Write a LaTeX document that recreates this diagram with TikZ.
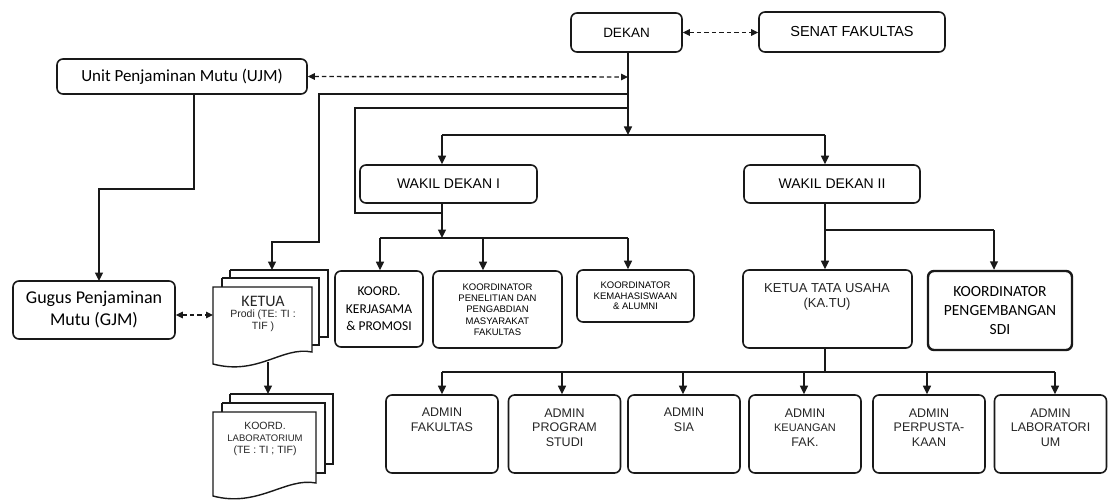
\documentclass[tikz,border=0pt]{standalone}
\usepackage{fontspec}
\setmainfont{Liberation Sans}
\newfontfamily\calibri{Carlito}
\usetikzlibrary{arrows.meta}
\newcommand\fsz[2]{\fontsize{#1}{#2}\selectfont}
\begin{document}
\begin{tikzpicture}[x=1pt,y=-1pt,
  box/.style={draw=black!90, line width=1.6pt, rounded corners=6pt, align=center, inner sep=0pt, fill=white},
  txt/.style={align=center, inner sep=0pt, text=black!85},
  ln/.style={line width=1.4pt, draw=black!90},
  arr/.style={ln, -{Triangle[length=8.5pt,width=8pt]}},
  darr/.style={ln, dash pattern=on 4.5pt off 3pt, {Triangle[length=7pt,width=6.5pt]}-{Triangle[length=7pt,width=6.5pt]}},
  doc/.style={line width=1.4pt, draw=black!90, line join=miter}]
\useasboundingbox (0,0) rectangle (1113,500);
\fill[white] (0,0) rectangle (1113,500);

% ---- top level boxes
\node[box, minimum width=111pt, minimum height=39pt, font=\fsz{13.5}{15}] (dekan) at (626.5,32.5) {DEKAN};
\node[box, minimum width=186pt, minimum height=40pt, font=\fsz{14.5}{16}] (senat) at (852,32) {SENAT FAKULTAS};
\node[box, minimum width=250pt, minimum height=35pt, font=\calibri\fsz{17}{20}] (ujm) at (182,76.5) {Unit Penjaminan Mutu (UJM)};
\node[box, minimum width=177pt, minimum height=38pt, font=\fsz{14}{16}] (wd1) at (448.5,184) {WAKIL DEKAN I};
\node[box, minimum width=176pt, minimum height=38pt, font=\fsz{14}{16}] (wd2) at (832,184) {WAKIL DEKAN II};
\node[box, minimum width=162pt, minimum height=58pt, font=\calibri\fsz{18}{22}] (gjm) at (94,310) {Gugus Penjaminan\\Mutu (GJM)};

% ---- second level
\node[box, minimum width=88pt, minimum height=76pt, font=\calibri\fsz{13.5}{17.5}] (kerj) at (379,309) {KOORD.\\KERJASAMA\\\& PROMOSI};
\node[box, minimum width=129pt, minimum height=77pt, font=\fsz{9.5}{11.3}] (pen) at (497.5,309.5) {KOORDINATOR\\PENELITIAN DAN\\PENGABDIAN\\MASYARAKAT\\FAKULTAS};
\node[box, minimum width=117pt, minimum height=52pt, font=\fsz{9.5}{10.5}] (kema) at (635.5,296) {KOORDINATOR\\KEMAHASISWAAN\\\& ALUMNI};
\node[box, minimum width=169pt, minimum height=78pt] (katu) at (827.5,309) {};
\node[txt, font=\fsz{13}{15}] (katut) at (827,296.5) {KETUA TATA USAHA\\(KA.TU)};
\node[box, line width=2.4pt, minimum width=144pt, minimum height=79pt, font=\calibri\fsz{15.5}{19}] (sdi) at (1000,310.5) {KOORDINATOR\\PENGEMBANGAN\\SDI};

% ---- admin boxes
\foreach \n/\cx in {a1/442, a2/564.5, a3/684, a4/805, a5/929, a6/1050.5}
  \node[box, minimum width=112pt, minimum height=78pt] (\n) at (\cx,434) {};
\node[txt, font=\fsz{12.5}{14.5}] (a1t) at (442,420) {ADMIN\\FAKULTAS};
\node[txt, font=\fsz{12.5}{14.5}] (a2t) at (564.5,427.5) {ADMIN\\PROGRAM\\STUDI};
\node[txt, font=\fsz{12.5}{14.5}] (a3t) at (684,420) {ADMIN\\SIA};
\node[txt, font=\fsz{12.5}{14.5}] (a4t) at (805,427.5) {ADMIN\\{\fsz{11}{14.5}KEUANGAN}\\FAK.};
\node[txt, font=\fsz{12.5}{14.5}] (a5t) at (929,427.5) {ADMIN\\PERPUSTA-\\KAAN};
\node[txt, font=\fsz{12.5}{14.5}] (a6t) at (1050.5,427.5) {ADMIN\\LABORATORI\\UM};

% ---- multi-document: KETUA Prodi
\draw[doc] (230,270) -- (328,270) -- (328,337) -- (319,337);
\draw[doc] (230,270) -- (230,278);
\draw[doc] (222,278) -- (319,278) -- (319,345) -- (312,345);
\draw[doc] (222,278) -- (222,287);
\draw[doc, fill=white] (213,287) -- (312,287) -- (312,352) .. controls (282,346) and (258,376) .. (213,364) -- cycle;
\node[txt] (ketua) at (263,314) {{\calibri\fsz{16}{13}KETUA}\\[-1pt]{\fsz{10.5}{12.5}Prodi (TE: TI :}\\{\fsz{10.5}{12.5}TIF )}};

% ---- multi-document: KOORD. LABORATORIUM
\draw[doc] (230,394) -- (333,394) -- (333,464) -- (325,464);
\draw[doc] (230,394) -- (230,403);
\draw[doc] (222,403) -- (325,403) -- (325,473) -- (316,473);
\draw[doc] (222,403) -- (222,412);
\draw[doc, fill=white] (213,412) -- (316,412) -- (316,483) .. controls (286,477) and (258,508) .. (213,496) -- cycle;
\node[txt] (lab) at (265,438.5) {{\fsz{10.5}{11.5}KOORD.}\\{\fsz{9.5}{12}LABORATORIUM}\\{\fsz{10.5}{14}(TE : TI ; TIF)}};

% ---- helper coordinates
\coordinate (j1) at (628,135);
\coordinate (m77) at (628,77);
\coordinate (b94) at (628,94);
\coordinate (b108) at (628,108);
\coordinate (k1) at (319,242);
\coordinate (ketuatop) at (272,270);
\coordinate (ketuaL) at (213,315);
\coordinate (ketuabot) at (268,362);
\coordinate (labtop) at (268,394);
\coordinate (w1) at (355,213);
\coordinate (c442) at (442,203);
\coordinate (j2) at (442,238);
\coordinate (c380) at (380,238);
\coordinate (c483) at (483,238);
\coordinate (c628) at (628,238);
\coordinate (c825) at (825,203);
\coordinate (j3) at (825,230);
\coordinate (c994) at (994,230);
\coordinate (j4) at (825,372);
\coordinate (u1) at (194,189);
\coordinate (gjmin) at (99,281);
\foreach \n/\ax in {b1/442, b2/562, b3/683, b4/804, b5/927, b6/1055}
  \coordinate (\n) at (\ax,372);

% ---- connectors
\draw[darr] (dekan.east) -- (senat.west |- dekan.east);
\draw[darr] (ujm.east) -- (m77);
\draw[arr] (j1 |- dekan.south) -- (j1);
\draw[ln] (c442 |- j1) -- (c825 |- j1);
\draw[arr] (c442 |- j1) -- (c442 |- wd1.north);
\draw[arr] (c825 |- j1) -- (c825 |- wd2.north);
\draw[arr] (b94) -| (k1) -| (ketuatop);
\draw[ln] (b108) -| (w1) -- (w1 -| c442);
\draw[arr] (c442) -- (j2);
\draw[ln] (c380) -- (c628);
\draw[arr] (c380) -- (c380 |- kerj.north);
\draw[arr] (c483) -- (c483 |- pen.north);
\draw[arr] (c628) -- (c628 |- kema.north);
\draw[ln] (c825) -- (j3) -- (c994);
\draw[arr] (j3) -- (j3 |- katu.north);
\draw[arr] (c994) -- (c994 |- sdi.north);
\draw[ln] (j4 |- katu.south) -- (j4);
\draw[ln] (b1) -- (b6);
\foreach \b/\n in {b1/a1, b2/a2, b3/a3, b4/a4, b5/a5, b6/a6}
  \draw[arr] (\b) -- (\b |- \n.north);
\draw[arr] (u1 |- ujm.south) -- (u1) -| (gjmin);
\draw[darr] (gjm.east |- ketuaL) -- (ketuaL);
\draw[arr] (ketuabot) -- (labtop);
\end{tikzpicture}
\end{document}
